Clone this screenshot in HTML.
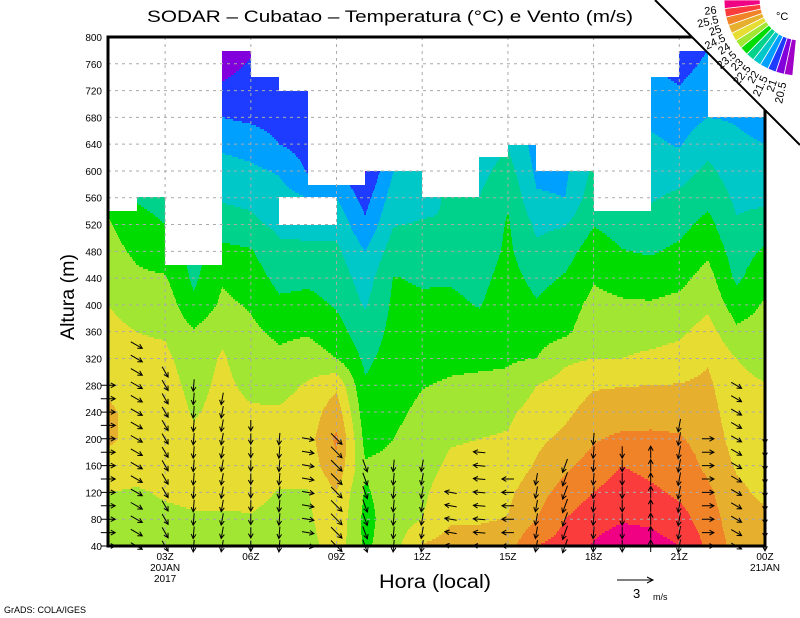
<!DOCTYPE html>
<html><head><meta charset="utf-8"><title>SODAR Cubatao</title>
<style>
html,body{margin:0;padding:0;background:#fff;}
svg{display:block;font-family:"Liberation Sans",sans-serif;}
</style></head>
<body>
<svg id="chart" width="800" height="618" viewBox="0 0 800 618" xmlns="http://www.w3.org/2000/svg">
  <rect x="0" y="0" width="800" height="618" fill="#fff"/>
  <g id="field" shape-rendering="crispEdges"></g>
  <g id="grid"></g>
  <g id="winds"></g>
  <g id="axes"></g>
  <text x="390" y="22" font-size="17" text-anchor="middle" textLength="486" lengthAdjust="spacingAndGlyphs">SODAR – Cubatao – Temperatura (°C) e Vento (m/s)</text>
  <text x="0" y="0" font-size="19" text-anchor="middle" transform="translate(74,297) rotate(-90)" textLength="86" lengthAdjust="spacingAndGlyphs">Altura (m)</text>
  <text x="435" y="588" font-size="19" text-anchor="middle" textLength="112" lengthAdjust="spacingAndGlyphs">Hora (local)</text>
  <text x="4" y="613" font-size="9">GrADS: COLA/IGES</text>
  <g>
    <line x1="617" y1="580" x2="653" y2="580" stroke="#000" stroke-width="1"/>
    <polyline points="647,577 653,580 647,583" fill="none" stroke="#000"/>
    <text x="633" y="598" font-size="13">3</text>
    <text x="653" y="600" font-size="9">m/s</text>
  </g>
  <polygon points="655,0 800,0 800,145" fill="#fff"/>
  <line x1="655" y1="0" x2="800" y2="145" stroke="#000" stroke-width="2"/>
  <g id="legend"></g>
  <text x="776" y="20" font-size="11">°C</text>
</svg>
<script>
// ---- data ----
const hourNodes = [1,2,3,4,5,6,7,8,9,10,11,12,13,14,15,16,17,18,19,20,21,22,23,24];
const heights = [40,80,120,160,200,240,280,320,360,400,440,480,520,560,600,640,680,720,760,800];
const temp01 = [23.8,23.9,24.0,24.3,24.6,24.6,24.4,24.2,24.1,24.0,23.85,23.7,23.55,23.4,23.2,23.0,22.8,22.6,22.4,22.2];
const temp02 = [23.8,23.85,23.95,24.2,24.3,24.3,24.2,24.1,24.0,23.85,23.6,23.4,23.2,22.95,22.8,22.6,22.4,22.2,22.0,21.8];
const temp03 = [23.7,23.9,24.05,24.2,24.3,24.3,24.2,24.1,23.95,23.8,23.55,23.2,23.0,22.8,22.6,22.4,22.2,22.0,21.8,21.6];
const temp04 = [23.8,23.95,24.1,24.2,24.1,23.95,23.85,23.75,23.55,23.1,22.9,22.85,22.7,22.5,22.3,22.1,21.9,21.7,21.5,21.3];
const temp05 = [23.8,23.95,24.1,24.2,24.2,24.15,24.1,24.05,23.9,23.6,23.45,23.15,22.7,22.45,22.2,21.9,21.5,21.1,20.8,20.5];
const temp06 = [23.85,23.97,24.1,24.2,24.15,24.05,23.9,23.75,23.6,23.45,23.25,23.05,22.6,22.4,22.1,21.8,21.4,21.25,21.05,20.8];
const temp07 = [23.8,23.9,23.98,24.1,24.15,24.05,23.85,23.6,23.4,23.1,22.85,22.6,22.4,22.2,21.95,21.5,21.3,21.1,20.9,20.7];
const temp08 = [23.8,23.9,23.98,24.2,24.3,24.2,24.05,23.75,23.45,23.15,22.9,22.6,22.35,22.0,21.45,21.3,21.1,21.0,20.8,20.6];
const temp09 = [24.3,24.4,24.5,24.9,25.1,24.8,24.4,23.5,23.2,22.95,22.8,22.6,22.35,22.0,21.6,21.3,21.1,20.9,20.7,20.5];
const temp10 = [23.4,23.35,23.45,23.55,23.35,23.2,23.05,22.9,22.7,22.45,22.25,22.0,21.6,21.3,20.95,20.8,20.6,20.4,20.2,20.0];
const temp11 = [23.8,23.75,23.7,23.6,23.5,23.4,23.3,23.2,23.15,23.1,23.02,22.75,22.48,22.25,22.0,21.8,21.6,21.4,21.2,21.0];
const temp12 = [24.55,24.0,23.9,23.8,23.7,23.6,23.48,23.35,23.2,23.08,22.95,22.7,22.53,22.4,22.2,22.0,21.8,21.6,21.4,21.2];
const temp13 = [24.7,24.45,24.3,24.1,23.95,23.75,23.55,23.4,23.25,23.1,22.95,22.7,22.5,22.55,22.3,22.1,21.9,21.7,21.5,21.3];
const temp14 = [24.7,24.45,24.3,24.15,24.0,23.8,23.6,23.4,23.2,22.97,22.85,22.7,22.6,22.5,22.35,22.2,22.0,21.8,21.6,21.4];
const temp15 = [24.8,24.52,24.4,24.2,24.05,23.9,23.6,23.45,23.35,23.3,23.2,23.1,23.05,22.95,22.7,22.45,22.2,22.0,21.8,21.6];
const temp16 = [25.5,25.0,24.8,24.55,24.4,24.2,24.0,23.5,23.3,23.05,22.85,22.6,22.4,22.05,21.9,21.8,21.6,21.4,21.2,21.0];
const temp17 = [25.7,25.5,25.2,24.9,24.6,24.4,24.2,23.9,23.4,23.25,23.05,22.8,22.47,22.0,21.9,21.8,21.6,21.4,21.2,21.0];
const temp18 = [26.05,25.8,25.5,25.2,24.95,24.7,24.45,24.0,23.8,23.65,23.45,23.25,22.98,22.8,22.6,22.45,22.3,22.1,21.9,21.7];
const temp19 = [26.3,25.95,25.75,25.5,25.1,24.75,24.48,24.0,23.8,23.57,23.3,23.02,22.8,22.6,22.4,22.2,22.0,21.8,21.6,21.4];
const temp20 = [26.2,25.9,25.6,25.35,25.1,24.8,24.5,24.1,23.8,23.55,23.25,22.95,22.7,22.45,22.3,22.1,21.9,21.7,21.5,21.3];
const temp21 = [26.0,25.7,25.4,25.25,25.05,24.8,24.52,24.2,23.9,23.65,23.35,23.1,22.85,22.6,22.3,21.95,21.75,21.55,21.3,21.1];
const temp22 = [25.4,25.25,25.1,24.9,24.8,24.7,24.6,24.45,24.2,23.9,23.7,23.4,23.15,22.85,22.6,22.35,22.0,21.8,21.6,21.4];
const temp23 = [24.8,24.7,24.6,24.45,24.3,24.2,24.1,24.0,23.6,23.25,22.9,22.75,22.55,22.4,22.25,22.1,21.95,21.8,21.6,21.4];
const temp24 = [24.7,24.6,24.4,24.3,24.2,24.1,24.02,23.85,23.7,23.55,23.35,23.08,22.7,22.4,22.2,22.0,21.8,21.6,21.4,21.2];
const tempColumns = [temp01,temp02,temp03,temp04,temp05,temp06,temp07,temp08,temp09,temp10,temp11,temp12,temp13,temp14,temp15,temp16,temp17,temp18,temp19,temp20,temp21,temp22,temp23,temp24];
// top of valid data for each hourly interval (m)
const dataTops = [540,560,460,460,780,740,720,580,580,600,600,560,560,620,640,600,600,540,540,740,780,680,680];
const gapIntervals = [6,7];
const gapRange = [520,560];
const levels = [20.5,21,21.5,22,22.5,23,23.5,24,24.5,25,25.5,26];
const levelLabels = ['26','25.5','25','24.5','24','23.5','23','22.5','22','21.5','21','20.5'];
const palette = ['#a000c8','#8200dc','#1e3cff','#00a0ff','#00c8c8','#00d28c','#00dc00','#a0e632','#e6dc32','#e6af2d','#f08228','#fa3c3c','#f00082'];
const xTickHours = [3,6,9,12,15,18,21,24];
const xTickLabels = ['03Z','06Z','09Z','12Z','15Z','18Z','21Z','00Z'];
const yTicks = [40,80,120,160,200,240,280,320,360,400,440,480,520,560,600,640,680,720,760,800];
const windDir = [0,-30,-60,-95,-100,-90,-95,-10,-45,-70,-95,-100,170,175,180,-100,-110,-95,-90,90,-100,0,-30,-90];
const windSpeed = [1.2,1.1,1.0,1.0,1.0,0.9,1.0,1.0,1.3,1.1,1.0,1.0,1.0,1.0,1.0,1.0,1.2,1.0,1.0,1.0,1.1,1.0,1.0,0.8];
const windTop = [280,340,300,280,260,220,200,200,200,160,160,160,120,180,140,140,160,200,180,180,220,200,280,200];

// ---- scales ----
const X0=108, X1=765, Y0=546, Y1=37;
const XS=(X1-X0)/23;
function xScale(h){return X0+(h-1)*XS;}
function yScale(m){return Y0-(m-40)/760*(Y0-Y1);}
function yInv(py){return 40+(Y0-py)/(Y0-Y1)*760;}
const NS='http://www.w3.org/2000/svg';
function mk(tag,parent){const e=document.createElementNS(NS,tag);parent.appendChild(e);return e;}

// ---- field ----
const field=document.getElementById('field');
function colorIndex(v){let c=0;for(const l of levels){if(v>=l)c++;}return c;}
for(let py=Y1;py<Y0;py+=2){
  const h=yInv(py+1);
  let jf=(h-40)/40; let j0=Math.max(0,Math.min(18,Math.floor(jf))); let fy=Math.max(0,Math.min(1,jf-j0));
  let runStart=X0, runCol=null;
  const flush=(endX)=>{
    if(runCol!==null && runCol>=0){
      const r=mk('rect',field);
      
      
      r.setAttribute('x',runStart);r.setAttribute('y',py);
      r.setAttribute('width',endX-runStart);r.setAttribute('height',2);
      r.setAttribute('fill',palette[runCol]);
    }
  };
  for(let px=X0;px<X1;px++){
    const f=(px+0.5-X0)/XS; const i0=Math.max(0,Math.min(22,Math.floor(f))); const fx=f-i0;
    let ci;
    if(h>dataTops[i0] || (gapIntervals.includes(i0) && h>gapRange[0] && h<gapRange[1])) ci=-1;
    else{
      const a=tempColumns[i0],b=tempColumns[i0+1];
      const v=(a[j0]*(1-fy)+a[j0+1]*fy)*(1-fx)+(b[j0]*(1-fy)+b[j0+1]*fy)*fx;
      ci=colorIndex(v);
    }
    if(ci!==runCol){flush(px);runStart=px;runCol=ci;}
  }
  flush(X1);
}

// ---- grid ----
const grid=document.getElementById('grid');
yTicks.forEach(t=>{
  if(t===40||t===800) return;
  const l=mk('line',grid);
  
  
  l.setAttribute('x1',X0);l.setAttribute('x2',X1);l.setAttribute('y1',yScale(t));l.setAttribute('y2',yScale(t));
  l.setAttribute('stroke','#aaa');l.setAttribute('stroke-dasharray','3,4');
});
xTickHours.forEach(hh=>{
  if(hh===24) return;
  const l=mk('line',grid);
  
  
  l.setAttribute('x1',xScale(hh));l.setAttribute('x2',xScale(hh));l.setAttribute('y1',Y1);l.setAttribute('y2',Y0);
  l.setAttribute('stroke','#aaa');l.setAttribute('stroke-dasharray','3,4');
});

// ---- winds ----
const winds=document.getElementById('winds');
hourNodes.forEach((hh,i)=>{
  for(let m=40;m<=windTop[i];m+=20){
    const x=xScale(hh), y=yScale(m);
    const a=windDir[i]*Math.PI/180, L=windSpeed[i]*12;
    const dx=Math.cos(a)*L, dy=-Math.sin(a)*L;
    const x1=x-dx/2,y1=y-dy/2,x2=x+dx/2,y2=y+dy/2;
    const ang=Math.atan2(y2-y1,x2-x1);
    const hx1=x2-5*Math.cos(ang-0.5), hy1=y2-5*Math.sin(ang-0.5);
    const hx2=x2-5*Math.cos(ang+0.5), hy2=y2-5*Math.sin(ang+0.5);
    const p=mk('path',winds);
    
    
    p.setAttribute('d',`M${x1.toFixed(1)},${y1.toFixed(1)}L${x2.toFixed(1)},${y2.toFixed(1)}M${hx1.toFixed(1)},${hy1.toFixed(1)}L${x2.toFixed(1)},${y2.toFixed(1)}L${hx2.toFixed(1)},${hy2.toFixed(1)}`);
    p.setAttribute('stroke','#000');p.setAttribute('fill','none');p.setAttribute('stroke-width','1');
  }
});

// ---- axes ----
const axes=document.getElementById('axes');
const frame=mk('rect',axes);


frame.setAttribute('x',X0);frame.setAttribute('y',Y1);frame.setAttribute('width',X1-X0);frame.setAttribute('height',Y0-Y1);
frame.setAttribute('fill','none');frame.setAttribute('stroke','#000');frame.setAttribute('stroke-width','3');
yTicks.forEach(t=>{
  const tx=mk('text',axes);
  
  
  tx.setAttribute('x',102);tx.setAttribute('y',yScale(t)+4);tx.setAttribute('font-size','10');tx.setAttribute('text-anchor','end');
  tx.textContent=t;
});
xTickHours.forEach((hh,i)=>{
  const tx=mk('text',axes);
  
  
  tx.setAttribute('x',xScale(hh));tx.setAttribute('y',560);tx.setAttribute('font-size','10');tx.setAttribute('text-anchor','middle');
  tx.textContent=xTickLabels[i];
});
[['20JAN',3,571],['2017',3,582],['21JAN',24,571]].forEach(d=>{
  const tx=mk('text',axes);
  
  
  tx.setAttribute('x',xScale(d[1]));tx.setAttribute('y',d[2]);tx.setAttribute('font-size','10');tx.setAttribute('text-anchor','middle');
  tx.textContent=d[0];
});

// ---- legend ----
const legend=document.getElementById('legend');
const cx=800,cy=0,r0=40,r1=76,a0=180,step=6.5;
function pt(r,a){const t=a*Math.PI/180;return [(cx+r*Math.cos(t)).toFixed(1),(cy+r*Math.sin(t)).toFixed(1)];}
for(let k=0;k<13;k++){
  const aS=a0-k*step, aE=a0-(k+1)*step;
  const p1=pt(r0,aS),p2=pt(r1,aS),p3=pt(r1,aE),p4=pt(r0,aE);
  const w=mk('polygon',legend);
  
  
  w.setAttribute('points',[p1,p2,p3,p4].map(q=>q.join(',')).join(' '));
  w.setAttribute('fill',palette[12-k]);w.setAttribute('stroke','#fff');w.setAttribute('stroke-width','0.8');
}
levelLabels.forEach((lab,k)=>{
  const a=a0-(k+1)*step;
  const q=pt(r1+8,a);
  const tx=mk('text',legend);
  
  
  tx.setAttribute('x',0);tx.setAttribute('y',4);tx.setAttribute('font-size','11');tx.setAttribute('text-anchor','end');
  tx.setAttribute('transform',`translate(${q[0]},${q[1]}) rotate(${(a-180).toFixed(1)})`);
  tx.textContent=lab;
});
</script>
</body></html>
